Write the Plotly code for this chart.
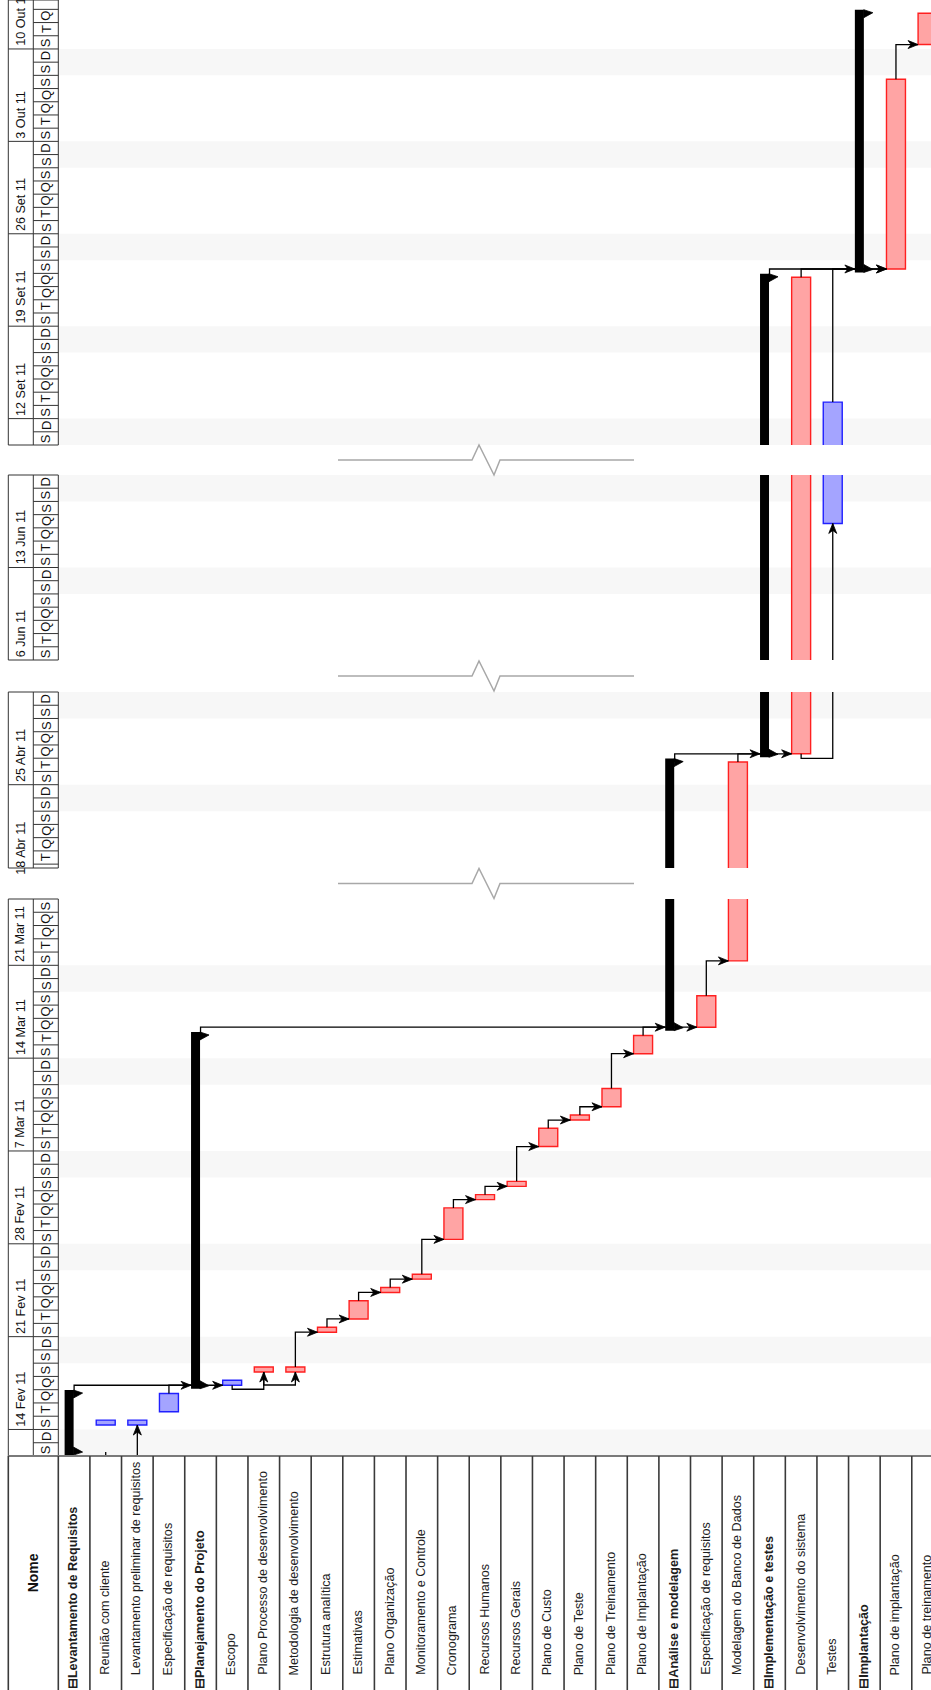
import math
from datetime import datetime, timedelta
import plotly.graph_objects as go

W, H = 931, 1690
ORIGIN = datetime(2011, 2, 12)

# ---------------- data ----------------
task_names = [
    "Levantamento de Requisitos", "Reunião com cliente", "Levantamento preliminar de requisitos",
    "Especificação de requisitos", "Planejamento do Projeto", "Escopo",
    "Plano Processo de desenvolvimento", "Metodologia de desenvolvimento", "Estrutura analítica",
    "Estimativas", "Plano Organização", "Monitoramento e Controle", "Cronograma",
    "Recursos Humanos", "Recursos Gerais", "Plano de Custo", "Plano de Teste",
    "Plano de Treinamento", "Plano de Implantação", "Análise e modelagem",
    "Especificação de requisitos", "Modelagem do Banco de Dados", "Implementação e testes",
    "Desenvolvimento do sistema", "Testes", "Implantação", "Plano de implantação",
    "Plano de treinamento",
]
task_type = [
    "summary", "blue", "blue", "blue", "summary", "blue", "red", "red", "red", "red",
    "red", "red", "red", "red", "red", "red", "red", "red", "red", "summary",
    "red", "red", "summary", "red", "blue", "summary", "red", "red",
]
task_start = [
    "2011-02-12 08:00", "2011-02-14 08:00", "2011-02-14 08:00", "2011-02-15 08:00",
    "2011-02-17 08:00", "2011-02-17 08:00", "2011-02-18 08:00", "2011-02-18 08:00",
    "2011-02-21 08:00", "2011-02-22 08:00", "2011-02-24 08:00", "2011-02-25 08:00",
    "2011-02-28 08:00", "2011-03-03 08:00", "2011-03-04 08:00", "2011-03-07 08:00",
    "2011-03-09 08:00", "2011-03-10 08:00", "2011-03-14 08:00", "2011-03-16 08:00",
    "2011-03-16 08:00", "2011-03-21 08:00", "2011-04-27 08:00", "2011-04-27 08:00",
    "2011-06-16 08:00", "2011-09-23 08:00", "2011-09-23 08:00", "2011-10-10 08:00",
]
task_finish = [
    "2011-02-16 17:00", "2011-02-14 17:00", "2011-02-14 17:00", "2011-02-16 17:00",
    "2011-03-15 17:00", "2011-02-17 17:00", "2011-02-18 17:00", "2011-02-18 17:00",
    "2011-02-21 17:00", "2011-02-23 17:00", "2011-02-24 17:00", "2011-02-25 17:00",
    "2011-03-02 17:00", "2011-03-03 17:00", "2011-03-04 17:00", "2011-03-08 17:00",
    "2011-03-09 17:00", "2011-03-11 17:00", "2011-03-15 17:00", "2011-04-26 17:00",
    "2011-03-18 17:00", "2011-04-26 17:00", "2011-09-22 17:00", "2011-09-22 17:00",
    "2011-09-13 06:00", "2011-10-12 17:00", "2011-10-07 17:00", "2011-10-12 17:00",
]
# dependency links: (predecessor row, successor row, kind)
link_pred = [0, 3, 1, 5, 6, 7, 8, 9, 10, 11, 12, 13, 14, 15, 16, 17, 4, 18, 20, 19, 21, 23, 22, 23, 24, 26]
link_succ = [4, 5, 2, 6, 7, 8, 9, 10, 11, 12, 13, 14, 15, 16, 17, 18, 19, 20, 21, 22, 23, 24, 25, 26, 26, 27]
link_kind = ["fs", "fs", "ss", "ss", "ss", "fs", "fs", "fs", "fs", "fs", "fs", "fs", "fs", "fs",
             "fs", "fs", "fs", "fs", "fs", "fs", "fs", "ss", "fs", "fs", "fs", "fs"]

# timescale segments (broken axis)
segment_start = ["2011-02-12 00:00", "2011-04-18 17:00", "2011-06-06 00:00", "2011-09-10 00:00"]
segment_end = ["2011-03-26 00:00", "2011-05-02 00:00", "2011-06-20 00:00", "2011-10-13 17:00"]

day_letters = ["S", "T", "Q", "Q", "S", "S", "D"]  # Mon..Sun
month_abbr = {1: "Jan", 2: "Fev", 3: "Mar", 4: "Abr", 5: "Mai", 6: "Jun",
              7: "Jul", 8: "Ago", 9: "Set", 10: "Out", 11: "Nov", 12: "Dez"}
header_title = "Nome"

# ---------------- geometry / style ----------------
SEG_PX = [(899, 1456), (692, 868), (475, 660), (0, 445)]
ROW_W = 31.61
PLOT_X0 = 58.3
HX0, HX1, HX2 = 8.3, 33.3, 58.3
TABLE_TOP = 1456
XR = (W - PLOT_X0) / ROW_W
FONT = "Liberation Sans, Arial, sans-serif"
LINK_DROP = {(1, 2): (32, 5), (5, 6): (4, None), (6, 7): (13, None), (23, 24): (4.5, None)}


def to_day(s):
    return (datetime.strptime(s, "%Y-%m-%d %H:%M") - ORIGIN).total_seconds() / 86400.0


segs = [(to_day(a), to_day(b)) for a, b in zip(segment_start, segment_end)]
pxd = [(b - t) / (d1 - d0) for (d0, d1), (t, b) in zip(segs, SEG_PX)]
starts = [to_day(s) for s in task_start]
ends = [to_day(s) for s in task_finish]


def seg_of(d):
    for k, (d0, d1) in enumerate(segs):
        if d0 - 1e-9 <= d <= d1 + 1e-9:
            return k
    return min(range(len(segs)), key=lambda k: min(abs(d - segs[k][0]), abs(d - segs[k][1])))


def ypx(d, k=None):
    if k is None:
        k = seg_of(d)
    d0, _ = segs[k]
    return SEG_PX[k][1] - (d - d0) * pxd[k]


def PX(x):
    return x / W


def PY(y):
    return 1 - y / H


def ax_names(k):
    sfx = "" if k == 0 else str(k + 1)
    return "x" + sfx, "y" + sfx, sfx


fig = go.Figure()
shapes = []
annotations = []

# ---------- link geometry ----------
link_x, link_y = [], []
arrow_polys = []  # (seg, xs, ys)
for p, s, kind in zip(link_pred, link_succ, link_kind):
    xp, xs = p + 0.5, s + 0.5
    if kind == "fs":
        xl = xs - 9.5 / ROW_W
        pts = [(xp, ends[p]), (xp, starts[s]), (xl, starts[s])]
        k = seg_of(starts[s])
        off = [(0, 0), (-10, 4), (-7, 0), (-10, -4), (0, 0)]
        arrow_polys.append((k, [xl + dx / ROW_W for dx, dy in off],
                            [starts[s] + dy / pxd[k] for dx, dy in off]))
    else:
        drop, stub = LINK_DROP.get((p, s), (5, None))
        kp = seg_of(starts[p])
        yh = starts[p] - drop / pxd[kp]
        y_from = starts[p] if stub is None else yh + stub / pxd[kp]
        pts = [(xp, y_from), (xp, yh), (xs, yh), (xs, starts[s])]
        k = seg_of(starts[s])
        off = [(0, 0), (4, -10), (0, -7), (-4, -10), (0, 0)]
        arrow_polys.append((k, [xs + dx / ROW_W for dx, dy in off],
                            [starts[s] + dy / pxd[k] for dx, dy in off]))
    for x, y in pts:
        link_x.append(x)
        link_y.append(y)
    link_x.append(None)
    link_y.append(None)

# summary caps
OV = 3.5 / 13.23
cap_polys = []
for i, t in enumerate(task_type):
    if t != "summary":
        continue
    for yend, sign in [(starts[i] - OV, 1), (ends[i] + OV, -1)]:
        k = seg_of(yend)
        cxl = i + 0.5 - 0.6 / ROW_W
        xs_ = [cxl, i + 0.5 + 8.5 / ROW_W, cxl, cxl]
        ys_ = [yend, yend + sign * 3 / pxd[k], yend + sign * 8 / pxd[k], yend]
        cap_polys.append((k, xs_, ys_))

for k, (d0, d1) in enumerate(segs):
    xa, ya, sfx = ax_names(k)
    # weekend shading
    n = math.floor(d0) - 2
    while n < d1:
        if (ORIGIN + timedelta(days=n)).weekday() == 5:
            a, b = max(n, d0), min(n + 2, d1)
            if b > a:
                shapes.append(dict(type="rect", xref=xa, yref=ya, x0=0, x1=XR, y0=a, y1=b,
                                   fillcolor="#f7f7f7", line=dict(width=0), layer="below"))
        n += 1
    # task bars
    for kind, fill, edge in [("red", "#ffa4a4", "#ff2020"), ("blue", "#a4a4ff", "#2020ff")]:
        idx = [i for i, t in enumerate(task_type) if t == kind]
        fig.add_trace(go.Bar(
            x=[i + 0.5 for i in idx], base=[starts[i] for i in idx],
            y=[ends[i] - starts[i] for i in idx], width=0.6,
            marker=dict(color=fill, line=dict(color=edge, width=1.4)),
            xaxis=xa, yaxis=ya, showlegend=False, hoverinfo="skip"))
    idx = [i for i, t in enumerate(task_type) if t == "summary"]
    fig.add_trace(go.Bar(
        x=[i + 0.5 - 5 / ROW_W for i in idx], base=[starts[i] - OV for i in idx],
        y=[ends[i] - starts[i] + 2 * OV for i in idx], width=9 / ROW_W,
        marker=dict(color="black", line=dict(width=0)),
        xaxis=xa, yaxis=ya, showlegend=False, hoverinfo="skip"))
    # links
    fig.add_trace(go.Scatter(x=link_x, y=link_y, mode="lines",
                             line=dict(color="black", width=1.3),
                             xaxis=xa, yaxis=ya, showlegend=False, hoverinfo="skip"))
    # arrowheads and caps
    px_, py_ = [], []
    for kk, xs_, ys_ in arrow_polys + cap_polys:
        if kk == k:
            px_ += xs_ + [None]
            py_ += ys_ + [None]
    if px_:
        fig.add_trace(go.Scatter(x=px_, y=py_, mode="lines", fill="toself",
                                 fillcolor="black", line=dict(color="black", width=0.8),
                                 xaxis=xa, yaxis=ya, showlegend=False, hoverinfo="skip"))

    # ----- timescale header for this segment -----
    top, bot = SEG_PX[k]
    hl = dict(color="#333333", width=1)
    for xv in (HX0, HX1, HX2):
        shapes.append(dict(type="line", xref="paper", yref="paper", x0=PX(xv), x1=PX(xv),
                           y0=PY(top), y1=PY(bot), line=hl))
    for yv in (top, bot):
        shapes.append(dict(type="line", xref="paper", yref="paper", x0=PX(HX0), x1=PX(HX2),
                           y0=PY(yv), y1=PY(yv), line=hl))
    n = math.floor(d0)
    while n < d1:
        date = ORIGIN + timedelta(days=n)
        if n > d0:
            yv = ypx(n, k)
            shapes.append(dict(type="line", xref="paper", yref="paper", x0=PX(HX1), x1=PX(HX2),
                               y0=PY(yv), y1=PY(yv), line=hl))
            if date.weekday() == 0:
                shapes.append(dict(type="line", xref="paper", yref="paper", x0=PX(HX0), x1=PX(HX1),
                                   y0=PY(yv), y1=PY(yv), line=hl))
        a, b = max(n, d0), min(n + 1, d1)
        if b - a >= 0.75:
            annotations.append(dict(
                x=PX((HX1 + HX2) / 2), y=PY(ypx((a + b) / 2, k)), xref="paper", yref="paper",
                text=day_letters[date.weekday()], showarrow=False, textangle=-90,
                xanchor="center", yanchor="middle", font=dict(size=13, color="#111")))
        if date.weekday() == 0 and n > d0 - 1:
            annotations.append(dict(
                x=PX((HX0 + HX1) / 2), y=PY(ypx(n, k) - 1), xref="paper", yref="paper",
                text=f"{date.day} {month_abbr[date.month]} {date.year % 100:02d}",
                showarrow=False, textangle=-90, xanchor="center", yanchor="bottom",
                font=dict(size=12.6, color="#111")))
        n += 1

    sx = dict(domain=[PLOT_X0 / W, 1], range=[0, XR], visible=False,
              anchor="y" + sfx, fixedrange=True)
    sy = dict(domain=[1 - bot / H, 1 - top / H], range=[d0, d1], visible=False,
              anchor="x" + sfx, fixedrange=True)
    fig.update_layout(**{"xaxis" + sfx: sx, "yaxis" + sfx: sy})

# break markers between segments
for k in range(len(segs) - 1):
    yc = (SEG_PX[k][0] + SEG_PX[k + 1][1]) / 2
    pts = [(338, yc), (472, yc), (479, yc - 15), (494, yc + 15), (500, yc), (634, yc)]
    path = "M " + " L ".join(f"{PX(x):.5f},{PY(y):.5f}" for x, y in pts)
    shapes.append(dict(type="path", xref="paper", yref="paper", path=path,
                       line=dict(color="#a8a8a8", width=1.5)))

# ---------- task table ----------
shapes.append(dict(type="line", xref="paper", yref="paper", x0=PX(HX0), x1=1,
                   y0=PY(TABLE_TOP), y1=PY(TABLE_TOP), line=dict(color="#7a7a7a", width=2)))
for xv in [HX0] + [PLOT_X0 + ROW_W * j for j in range(len(task_names))]:
    if xv <= W:
        shapes.append(dict(type="line", xref="paper", yref="paper", x0=PX(xv), x1=PX(xv),
                           y0=PY(TABLE_TOP), y1=0, line=dict(color="#3a3a3a", width=1.6)))
annotations.append(dict(x=PX((HX0 + HX2) / 2), y=PY(1573), xref="paper", yref="paper",
                        text=f"<b>{header_title}</b>", showarrow=False, textangle=-90,
                        xanchor="center", yanchor="middle", font=dict(size=14, color="#111")))
for i, name in enumerate(task_names):
    cx = PLOT_X0 + ROW_W * (i + 0.5)
    if task_type[i] == "summary":
        txt, yb = f"<b>⊟{name}</b>", 1691
    else:
        txt, yb = name, 1677
    annotations.append(dict(x=PX(cx - 1), y=PY(yb), xref="paper", yref="paper", text=txt,
                            showarrow=False, textangle=-90, xanchor="center", yanchor="bottom",
                            font=dict(size=12.6, color="#1e1e1e")))

fig.update_layout(width=W, height=H, margin=dict(l=0, r=0, t=0, b=0),
                  paper_bgcolor="white", plot_bgcolor="white", barmode="overlay",
                  font=dict(family=FONT), shapes=shapes, annotations=annotations,
                  showlegend=False)
fig.write_html("out.html", config={"displayModeBar": False},
               post_script="document.body.style.margin='0';document.body.style.padding='0';")
